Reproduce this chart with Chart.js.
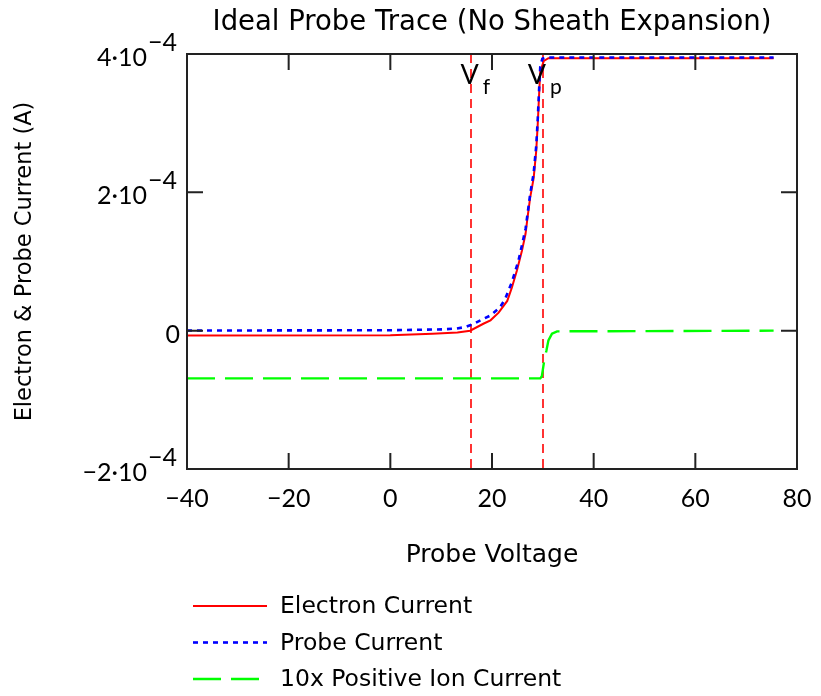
<!doctype html>
<html lang="en">
<head>
    <title>Ideal Probe Trace</title>
    <script src="https://cdnjs.cloudflare.com/ajax/libs/Chart.js/4.4.1/chart.umd.min.js"></script>
    <style>
        body { margin: 0; background: #fff; }
    </style>
</head>
<body>
<canvas id="probe" width="821" height="696"></canvas>

<script>
    // electron current (A) vs probe voltage (V)
    const elecV = [-40, 0, 8.3, 13.2, 15.7, 18.3, 19.7, 21.3, 23.0, 23.9, 24.9, 25.9, 26.6, 27.0, 27.5, 28.2, 28.7, 29.0, 29.3, 29.5, 30.2, 31.1, 75.4];
    const elecI = [-6.9e-6, -6.5e-6, -4.5e-6, -2.8e-6, 0, 1.0e-5, 1.5e-5, 2.6e-5, 4.3e-5, 6.2e-5, 8.7e-5, 1.16e-4, 1.40e-4, 1.64e-4, 1.92e-4, 2.21e-4, 2.60e-4, 2.99e-4, 3.47e-4, 3.75e-4, 3.90e-4, 3.94e-4, 3.94e-4];

    // total probe current
    const probeV = [-40, 0, 10.8, 13.1, 14.6, 16.3, 18.3, 19.7, 21.6, 22.6, 23.9, 25.2, 25.9, 26.6, 27.0, 27.5, 28.2, 28.7, 29.0, 29.3, 29.5, 29.9, 30.6, 75.4];
    const probeI = [0.2e-6, 0.6e-6, 2.0e-6, 3.2e-6, 5.0e-6, 9.6e-6, 1.7e-5, 2.2e-5, 3.4e-5, 4.6e-5, 7.0e-5, 1.01e-4, 1.24e-4, 1.47e-4, 1.69e-4, 1.97e-4, 2.28e-4, 2.67e-4, 3.06e-4, 3.54e-4, 3.82e-4, 3.93e-4, 3.95e-4, 3.95e-4];

    // positive ion current, scaled by 10
    const ionV = [-40, 29.5, 29.8, 30.3, 30.7, 31.1, 31.8, 32.8, 75.4];
    const ionI = [-6.9e-5, -6.9e-5, -6.6e-5, -4.2e-5, -2.9e-5, -1.4e-5, -4.5e-6, -1e-6, 0];

    // floating and plasma potentials
    const markV = [15.8, 30.0];
    const markSub = ['f', 'p'];

    const xTicks = [-40, -20, 0, 20, 40, 60, 80];
    const yTicks = [-2e-4, 0, 2e-4, 4e-4];
    const yTickBase = ['\u22122\u00b710', '0', '2\u00b710', '4\u00b710'];
    const yTickExp = ['\u22124', '', '\u22124', '\u22124'];

    const NUM = 'Lato, "Open Sans", sans-serif';
    const TXT = '"DejaVu Sans", Lato, sans-serif';

    const pts = (xs, ys) => xs.map((x, i) => ({x: x, y: ys[i]}));

    const frame = {
        id: 'frame',
        beforeDatasetsDraw(chart) {
            const {ctx, chartArea: a, scales: {x}} = chart;
            ctx.save();
            ctx.strokeStyle = '#ff1010';
            ctx.lineWidth = 1.7;
            ctx.setLineDash([9, 6]);
            markV.forEach(v => {
                const px = Math.round(x.getPixelForValue(v));
                ctx.beginPath();
                ctx.moveTo(px, a.top);
                ctx.lineTo(px, a.bottom);
                ctx.stroke();
            });
            ctx.restore();
        },
        afterDraw(chart) {
            const {ctx, chartArea: a, scales: {x, y}} = chart;
            ctx.save();
            ctx.strokeStyle = '#222';
            ctx.lineWidth = 2;
            ctx.strokeRect(a.left, a.top, a.right - a.left, a.bottom - a.top);

            // inward ticks on all four sides
            const tl = 16;
            ctx.beginPath();
            xTicks.forEach(v => {
                const px = x.getPixelForValue(v);
                ctx.moveTo(px, a.bottom); ctx.lineTo(px, a.bottom - tl);
                ctx.moveTo(px, a.top); ctx.lineTo(px, a.top + tl);
            });
            yTicks.forEach(v => {
                const py = y.getPixelForValue(v);
                ctx.moveTo(a.left, py); ctx.lineTo(a.left + tl, py);
                ctx.moveTo(a.right, py); ctx.lineTo(a.right - tl, py);
            });
            ctx.stroke();

            // y tick labels with raised exponent
            ctx.fillStyle = '#000';
            ctx.textBaseline = 'middle';
            yTicks.forEach((v, i) => {
                const py = y.getPixelForValue(v) + 4;
                ctx.font = '25px ' + NUM;
                if (yTickExp[i]) {
                    ctx.textAlign = 'right';
                    ctx.fillText(yTickBase[i], a.left - 40, py);
                    ctx.textAlign = 'left';
                    ctx.fillText(yTickExp[i], a.left - 39, py - 15);
                } else {
                    ctx.textAlign = 'right';
                    ctx.fillText(yTickBase[i], a.left - 7, py);
                }
            });

            // V_f and V_p labels at the top of the marker lines
            ctx.textBaseline = 'alphabetic';
            markV.forEach((v, i) => {
                const px = x.getPixelForValue(v) + (i === 0 ? -1 : -6);
                ctx.font = '27px ' + NUM;
                ctx.textAlign = 'center';
                ctx.fillText('V', px, a.top + 30);
                const w = ctx.measureText('V').width;
                ctx.font = '21px ' + NUM;
                ctx.textAlign = 'left';
                ctx.fillText(markSub[i], px + w / 2 + 4, a.top + 40);
            });

            // legend stacked under the axis title
            const rowY = a.bottom + 137;
            chart.data.datasets.forEach((ds, i) => {
                const ly = rowY + i * 36.5;
                ctx.strokeStyle = ds.borderColor;
                ctx.lineWidth = ds.borderWidth;
                ctx.setLineDash(ds.borderDash || []);
                ctx.beginPath();
                ctx.moveTo(a.left + 6, ly);
                ctx.lineTo(a.left + 80, ly);
                ctx.stroke();
                ctx.setLineDash([]);
                ctx.font = '23.5px ' + TXT;
                ctx.fillStyle = '#000';
                ctx.textAlign = 'left';
                ctx.textBaseline = 'middle';
                ctx.fillText(ds.label, a.left + 93, ly + 1);
            });
            ctx.restore();
        }
    };

    new Chart(document.getElementById('probe'), {
        type: 'line',
        data: {
            datasets: [
                {
                    label: 'Electron Current',
                    data: pts(elecV, elecI),
                    borderColor: '#ff0000',
                    borderWidth: 2,
                    order: 1,
                },
                {
                    label: 'Probe Current',
                    data: pts(probeV, probeI),
                    borderColor: '#0000ff',
                    borderWidth: 2.6,
                    borderDash: [5, 5],
                    order: 0,
                },
                {
                    label: '10x Positive Ion Current',
                    data: pts(ionV, ionI),
                    borderColor: '#00ff00',
                    borderWidth: 2.4,
                    borderDash: [28, 10],
                    order: 2,
                },
            ],
        },
        options: {
            responsive: false,
            animation: false,
            layout: {
                padding: {left: 0, right: 24, top: 0, bottom: 110},
            },
            elements: {
                point: {radius: 0},
                line: {tension: 0, fill: false},
            },
            plugins: {
                legend: {display: false},
                tooltip: {enabled: false},
                title: {
                    display: true,
                    fullSize: false,
                    text: 'Ideal Probe Trace (No Sheath Expansion)',
                    color: '#000',
                    font: {family: TXT, size: 27.5, weight: 'normal'},
                    padding: {top: 6, bottom: 15},
                },
            },
            scales: {
                x: {
                    type: 'linear',
                    min: -40,
                    max: 80,
                    grid: {display: false},
                    border: {display: false},
                    ticks: {
                        stepSize: 20,
                        maxRotation: 0,
                        padding: 7,
                        color: '#000',
                        font: {family: NUM, size: 25},
                        callback: v => v < 0 ? '\u2212' + (-v) : String(v),
                    },
                    title: {
                        display: true,
                        text: 'Probe Voltage',
                        color: '#000',
                        font: {family: TXT, size: 25},
                        padding: {top: 0, bottom: 16},
                    },
                    afterFit(scale) { scale.height = 117; },
                },
                y: {
                    min: -2e-4,
                    max: 4e-4,
                    grid: {display: false},
                    border: {display: false},
                    ticks: {display: false, stepSize: 2e-4},
                    title: {
                        display: true,
                        text: 'Electron & Probe Current (A)',
                        color: '#000',
                        font: {family: TXT, size: 22.5},
                        padding: {top: 12, bottom: 0},
                    },
                    afterFit(scale) { scale.width = 187; },
                },
            },
        },
        plugins: [frame],
    });
</script>
</body>
</html>
